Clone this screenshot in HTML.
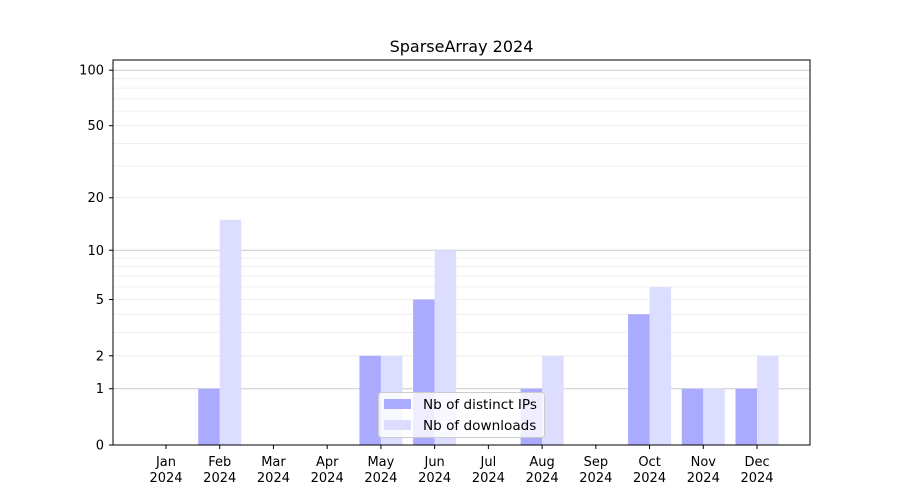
<!DOCTYPE html>
<html><head><meta charset="utf-8"><style>body{margin:0;background:#fff}svg{display:block;font-family:"DejaVu Sans","Liberation Sans",sans-serif}</style></head>
<body><svg id="s" width="900" height="500" xmlns="http://www.w3.org/2000/svg"></svg>
<script>
var s=document.getElementById('s'),h='';
function Y(v){return 445-187*Math.log10(1+v);}
h+='<rect x="0" y="0" width="900" height="500" fill="#fff"/>';
var minors=[2,3,4,5,6,7,8,9,20,30,40,50,60,70,80,90];
minors.forEach(function(v){var y=Y(v).toFixed(1);h+='<line x1="113" x2="810" y1="'+y+'" y2="'+y+'" stroke="#ebebeb" stroke-width="0.8"/>';});
[1,10,100].forEach(function(v){var y=Y(v).toFixed(1);h+='<line x1="113" x2="810" y1="'+y+'" y2="'+y+'" stroke="#cccccc" stroke-width="1"/>';});
var ips=[0,1,0,0,2,5,0,1,0,4,1,1],dl=[0,15,0,0,2,10,0,2,0,6,1,2];
var m=['Jan','Feb','Mar','Apr','May','Jun','Jul','Aug','Sep','Oct','Nov','Dec'];
for(var i=0;i<12;i++){var c=166+i*53.73;
 if(ips[i]>0){var y=Y(ips[i]);h+='<rect x="'+(c-21.5)+'" y="'+y+'" width="21.5" height="'+(445-y)+'" fill="#aaaaff"/>';}
 if(dl[i]>0){var y=Y(dl[i]);h+='<rect x="'+c+'" y="'+y+'" width="21.5" height="'+(445-y)+'" fill="#ddddff"/>';}
 h+='<line x1="'+c+'" x2="'+c+'" y1="445" y2="449" stroke="#000"/>';
 h+='<text x="'+c+'" y="466" font-size="13" text-anchor="middle">'+m[i]+'</text><text x="'+c+'" y="482" font-size="13" text-anchor="middle">2024</text>';}
[0,1,2,5,10,20,50,100].forEach(function(v){var y=Y(v);h+='<line x1="109" x2="113" y1="'+y+'" y2="'+y+'" stroke="#000"/><text x="104" y="'+(y+4.5)+'" font-size="13" text-anchor="end">'+v+'</text>';});
h+='<rect x="113" y="60" width="697" height="385" fill="none" stroke="#000" stroke-width="1"/>';
h+='<text x="461.5" y="52" font-size="16" text-anchor="middle">SparseArray 2024</text>';
h+='<rect x="378.5" y="392.5" width="166" height="45" rx="3" fill="#fff" fill-opacity="0.8" stroke="#cccccc"/>';
h+='<rect x="384" y="399" width="27" height="10" fill="#aaaaff"/><text x="423" y="409" font-size="13.6">Nb of distinct IPs</text>';
h+='<rect x="384" y="420" width="27" height="10" fill="#ddddff"/><text x="423" y="430" font-size="13.6">Nb of downloads</text>';
s.innerHTML=h;
</script></body></html>
